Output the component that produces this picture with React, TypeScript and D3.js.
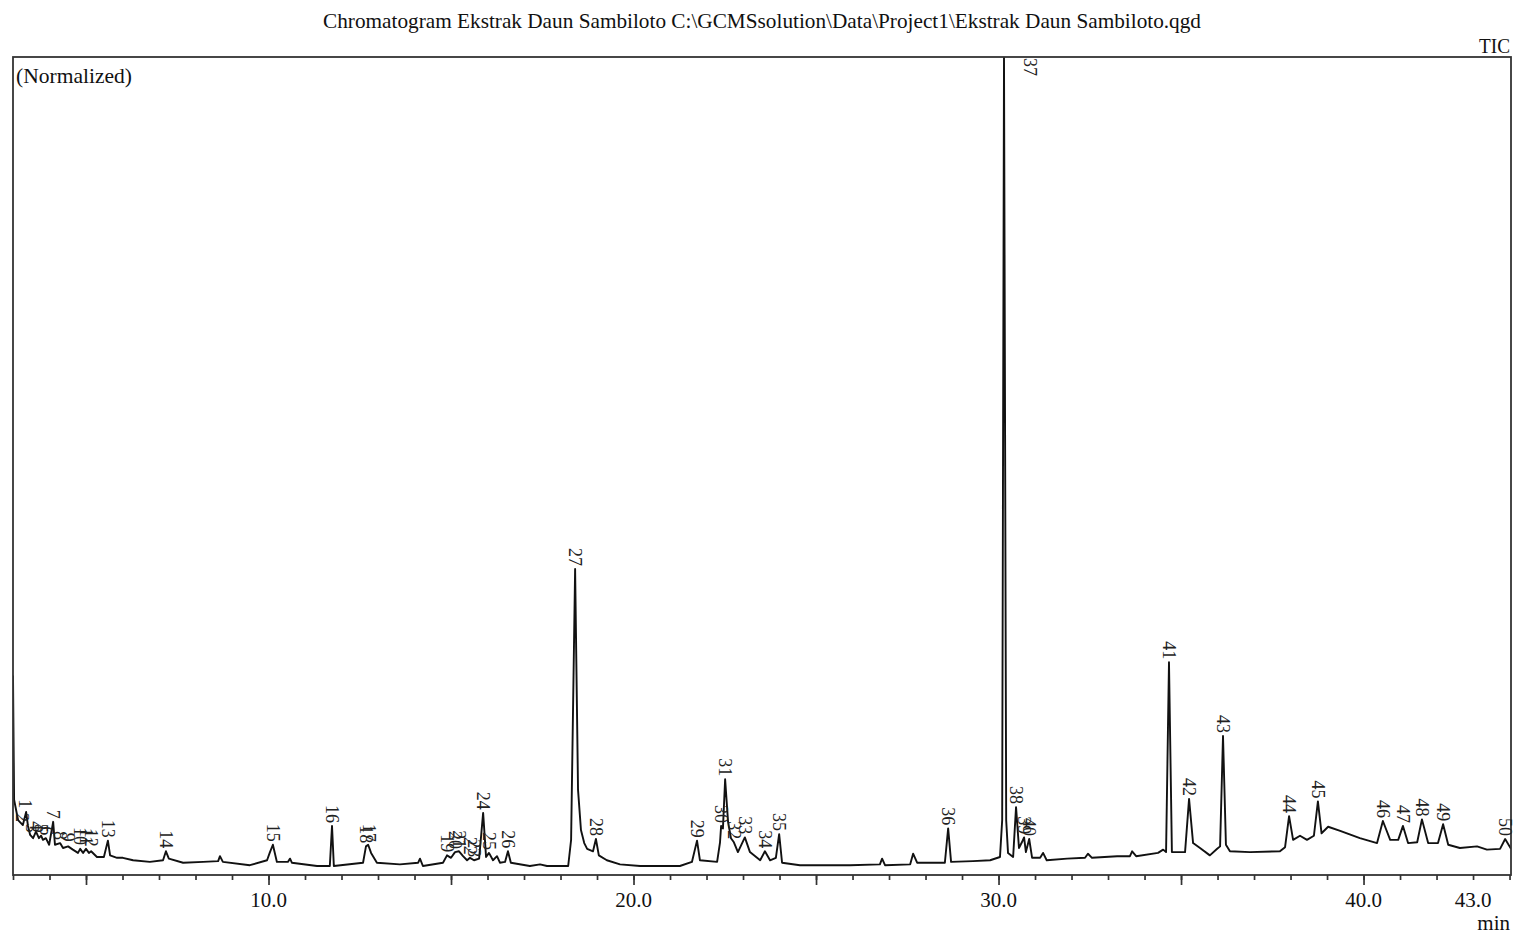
import React, { useEffect, useRef } from 'react';
import * as d3 from 'd3';

// TIC trace: [retention time (min), intensity (% of peak 37)]
const tic: [number, number][] = [
  [3.0, 24.4], [3.03, 9.2], [3.14, 6.7], [3.27, 6.1], [3.36, 7.7], [3.41, 6.0], [3.47, 4.9],
  [3.55, 4.5], [3.63, 5.3], [3.71, 4.5], [3.77, 4.8], [3.82, 4.3], [3.9, 4.5], [3.99, 3.7],
  [4.1, 6.5], [4.15, 3.7], [4.29, 3.9], [4.37, 3.3], [4.51, 3.5], [4.64, 3.1], [4.78, 2.7],
  [4.84, 3.2], [4.92, 2.7], [5.0, 3.2], [5.08, 2.7], [5.14, 2.9], [5.3, 2.2], [5.49, 2.2],
  [5.6, 4.2], [5.66, 2.4], [5.85, 2.1], [6.01, 2.1], [6.29, 1.8], [6.75, 1.6], [7.11, 1.8],
  [7.19, 2.9], [7.27, 2.0], [7.66, 1.5], [8.21, 1.6], [8.62, 1.7], [8.67, 2.3], [8.75, 1.6],
  [9.49, 1.2], [9.96, 1.8], [10.04, 2.8], [10.12, 3.7], [10.23, 1.6], [10.53, 1.6], [10.59, 2.0],
  [10.64, 1.5], [11.33, 1.1], [11.68, 1.1], [11.74, 6.0], [11.79, 1.1], [12.59, 1.5], [12.67, 3.5],
  [12.73, 3.7], [12.81, 2.7], [12.97, 1.5], [13.6, 1.3], [14.1, 1.5], [14.15, 2.0], [14.23, 1.1],
  [14.78, 1.5], [14.89, 2.4], [15.0, 2.1], [15.11, 2.8], [15.22, 2.9], [15.33, 2.3], [15.44, 1.8],
  [15.52, 2.1], [15.63, 1.8], [15.77, 2.0], [15.88, 7.6], [15.96, 2.2], [16.04, 2.7], [16.15, 1.8],
  [16.26, 2.3], [16.34, 1.5], [16.48, 1.6], [16.56, 2.9], [16.64, 1.5], [17.16, 1.1], [17.44, 1.3],
  [17.63, 1.1], [18.21, 1.1], [18.29, 4.3], [18.4, 37.4], [18.48, 10.4], [18.56, 5.5], [18.65, 3.9],
  [18.73, 3.2], [18.89, 2.9], [18.97, 4.4], [19.05, 2.4], [19.27, 1.8], [19.63, 1.3], [20.18, 1.1],
  [21.27, 1.1], [21.6, 1.6], [21.74, 4.2], [21.82, 1.8], [22.29, 1.6], [22.37, 4.0], [22.4, 6.0],
  [22.45, 5.7], [22.51, 11.7], [22.59, 6.5], [22.67, 4.5], [22.75, 4.0], [22.86, 2.8], [23.05, 4.6],
  [23.19, 2.8], [23.47, 1.8], [23.6, 2.9], [23.74, 1.8], [23.9, 2.1], [23.99, 5.0], [24.07, 1.5],
  [24.56, 1.2], [25.93, 1.2], [26.75, 1.3], [26.81, 2.0], [26.89, 1.2], [27.58, 1.3], [27.66, 2.6],
  [27.77, 1.5], [28.53, 1.5], [28.62, 5.7], [28.7, 1.6], [29.3, 1.7], [29.77, 1.8], [30.04, 2.2],
  [30.1, 6.7], [30.15, 100], [30.21, 6.7], [30.26, 2.7], [30.4, 2.2], [30.48, 8.3], [30.56, 3.3],
  [30.64, 4.0], [30.7, 4.6], [30.75, 2.8], [30.84, 4.4], [30.92, 2.1], [31.14, 2.1], [31.22, 2.7],
  [31.32, 1.8], [31.88, 2.0], [32.37, 2.1], [32.45, 2.6], [32.56, 2.1], [33.25, 2.3], [33.6, 2.3],
  [33.66, 2.9], [33.77, 2.3], [34.37, 2.7], [34.51, 3.1], [34.59, 2.8], [34.67, 26.0], [34.75, 2.8],
  [35.11, 2.8], [35.22, 9.3], [35.33, 3.9], [35.52, 3.3], [35.79, 2.4], [35.99, 3.2], [36.07, 3.5],
  [36.15, 17.0], [36.23, 3.7], [36.34, 2.9], [36.89, 2.8], [37.71, 2.9], [37.85, 3.4], [37.96, 7.2],
  [38.07, 4.3], [38.26, 4.8], [38.45, 4.3], [38.64, 4.8], [38.75, 9.0], [38.85, 5.1], [39.03, 5.9],
  [39.36, 5.4], [39.9, 4.5], [40.37, 3.9], [40.53, 6.6], [40.73, 4.3], [40.95, 4.3], [41.08, 6.0],
  [41.22, 3.9], [41.47, 4.0], [41.6, 6.8], [41.77, 3.9], [42.04, 3.9], [42.18, 6.2], [42.32, 3.7],
  [42.64, 3.3], [43.11, 3.5], [43.38, 3.1], [43.74, 3.2], [43.88, 4.4], [44.04, 3.2],
];

// peak labels: number, retention time, apex intensity
const peakNumbers = [
  1, 2, 3, 4, 5, 6, 7, 8, 9, 10, 11, 12, 13, 14, 15, 16, 17, 18, 19, 20, 21, 22, 23, 24, 25,
  26, 27, 28, 29, 30, 31, 32, 33, 34, 35, 36, 37, 38, 39, 40, 41, 42, 43, 44, 45, 46, 47, 48, 49, 50,
];
const peakTimes = [
  3.33, 3.25, 3.52, 3.63, 3.77, 3.9, 4.1, 4.29, 4.51, 4.84, 5.0, 5.14, 5.6, 7.19, 10.12, 11.74,
  12.75, 12.67, 14.89, 15.11, 15.22, 15.52, 15.63, 15.88, 16.04, 16.56, 18.4, 18.97, 21.74, 22.4,
  22.51, 22.75, 23.05, 23.6, 23.99, 28.62, 30.15, 30.48, 30.7, 30.84, 34.67, 35.22, 36.15, 37.96,
  38.75, 40.53, 41.08, 41.6, 42.18, 43.88,
];
const peakHeights = [
  7.8, 6.1, 4.8, 5.1, 4.8, 4.5, 6.5, 3.9, 3.7, 3.3, 3.3, 3.1, 4.2, 2.9, 3.7, 6.0, 3.7, 3.5, 2.4,
  2.8, 2.9, 2.1, 1.8, 7.6, 2.7, 2.9, 37.4, 4.4, 4.2, 6.0, 11.7, 4.0, 4.6, 2.9, 5.0, 5.7, 100, 8.3,
  4.6, 4.4, 26.0, 9.3, 17.0, 7.2, 9.0, 6.6, 6.0, 6.8, 6.2, 4.4,
];

const xTickLabels = [10, 20, 30, 40, 43];
const chartTitle =
  'Chromatogram Ekstrak Daun Sambiloto C:\\GCMSsolution\\Data\\Project1\\Ekstrak Daun Sambiloto.qgd';

const FONT = '"Liberation Serif", "Times New Roman", serif';

const App = () => {
  const svgRef = useRef<SVGSVGElement | null>(null);

  useEffect(() => {
    const left = 13;
    const right = 1511;
    const top = 57;
    const bottom = 875;

    const x = d3.scaleLinear().domain([3.0, 44.04]).range([left, right]);
    const y = d3.scaleLinear().domain([0, 100]).range([bottom, top]);

    const svg = d3.select(svgRef.current);
    svg.selectAll('*').remove();
    svg.style('font-family', FONT);

    // title + corner texts
    svg
      .append('text')
      .attr('x', 323)
      .attr('y', 28)
      .attr('textLength', 878)
      .attr('lengthAdjust', 'spacingAndGlyphs')
      .style('font-size', '22px')
      .attr('fill', '#111')
      .text(chartTitle);

    svg
      .append('text')
      .attr('x', 1479)
      .attr('y', 53)
      .attr('textLength', 31)
      .attr('lengthAdjust', 'spacingAndGlyphs')
      .style('font-size', '22px')
      .attr('fill', '#111')
      .text('TIC');

    svg
      .append('text')
      .attr('x', 16)
      .attr('y', 83)
      .attr('textLength', 116)
      .attr('lengthAdjust', 'spacingAndGlyphs')
      .style('font-size', '22px')
      .attr('fill', '#111')
      .text('(Normalized)');

    // trace (clipped to the frame)
    svg
      .append('clipPath')
      .attr('id', 'plot-clip')
      .append('rect')
      .attr('x', left)
      .attr('y', top)
      .attr('width', right - left)
      .attr('height', bottom - top);

    const line = d3
      .line<[number, number]>()
      .x(d => x(d[0]))
      .y(d => y(d[1]));

    svg
      .append('path')
      .datum(tic)
      .attr('clip-path', 'url(#plot-clip)')
      .attr('fill', 'none')
      .attr('stroke', '#111')
      .attr('stroke-width', 1.9)
      .attr('stroke-linejoin', 'round')
      .attr('d', line);

    // frame
    svg
      .append('rect')
      .attr('x', left)
      .attr('y', top)
      .attr('width', right - left)
      .attr('height', bottom - top)
      .attr('fill', 'none')
      .attr('stroke', '#333')
      .attr('stroke-width', 1.8);

    // x axis ticks: minor every minute, longer every 5 minutes
    const minorAxis = d3
      .axisBottom(x)
      .tickValues(d3.range(3, 45))
      .tickSize(5)
      .tickFormat(() => '');
    const majorAxis = d3
      .axisBottom(x)
      .tickValues(d3.range(5, 45, 5))
      .tickSize(10)
      .tickFormat(() => '');

    [minorAxis, majorAxis].forEach(ax => {
      const g = svg.append('g').attr('transform', `translate(0,${bottom})`).call(ax);
      g.select('.domain').remove();
      g.selectAll('line').attr('stroke', '#333').attr('stroke-width', 1.7);
    });

    svg
      .append('g')
      .selectAll('text')
      .data(xTickLabels)
      .enter()
      .append('text')
      .attr('x', d => x(d))
      .attr('y', 907)
      .attr('text-anchor', 'middle')
      .style('font-size', '21px')
      .attr('fill', '#111')
      .text(d => d3.format('.1f')(d));

    svg
      .append('text')
      .attr('x', 1510)
      .attr('y', 930)
      .attr('text-anchor', 'end')
      .style('font-size', '21px')
      .attr('fill', '#111')
      .text('min');

    // peak number labels, rotated
    const labels = peakNumbers.map((n, i) => ({ n, t: peakTimes[i], h: peakHeights[i] }));
    const clash = (d: { n: number; h: number }) => y(d.h) - 3 - String(d.n).length * 9 < top;
    svg
      .append('g')
      .selectAll('text')
      .data(labels)
      .enter()
      .append('text')
      .attr('transform', d =>
        clash(d)
          ? `translate(${x(d.t) + 26},${top + 1}) rotate(90)`
          : `translate(${x(d.t)},${y(d.h) - 3}) rotate(90)`
      )
      .attr('text-anchor', d => (clash(d) ? 'start' : 'end'))
      .attr('dy', '0.33em')
      .style('font-size', '18px')
      .attr('fill', '#222')
      .text(d => String(d.n));
  }, []);

  return (
    <svg
      ref={svgRef}
      width={1519}
      height={936}
      style={{ position: 'absolute', left: 0, top: 0, background: '#fff' }}
    />
  );
};

export default App;
